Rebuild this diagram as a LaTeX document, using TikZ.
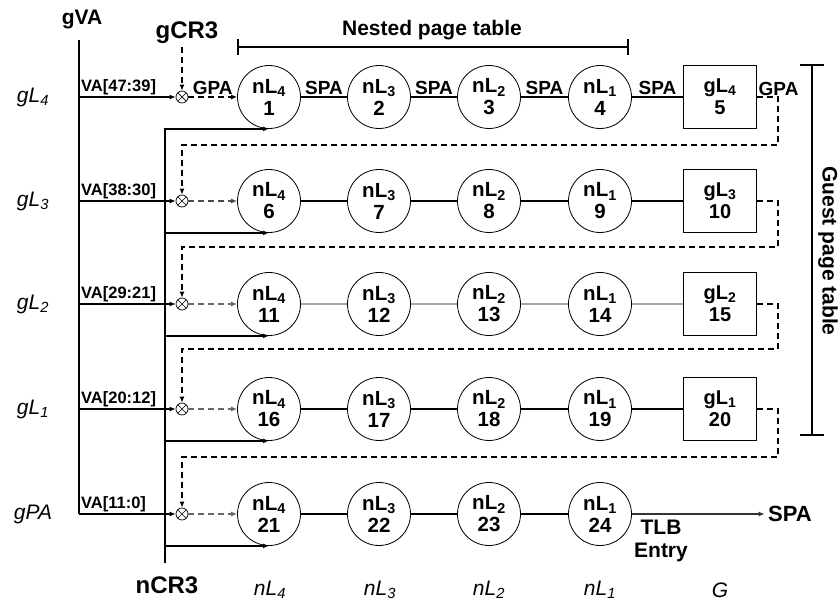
\documentclass[tikz,border=0pt]{standalone}
\usepackage{fontspec}
\setmainfont{Liberation Sans}
\usetikzlibrary{arrows.meta,positioning}

\begin{document}
\begin{tikzpicture}[x=1pt, y=-1pt,
  nl/.style={circle, draw, line width=0.8pt, minimum size=63pt, inner sep=0pt, align=center, font=\bfseries\fontsize{20.5}{22}\selectfont},
  gl/.style={rectangle, draw, line width=1pt, minimum width=73pt, minimum height=63pt, inner sep=0pt, align=center, font=\bfseries\fontsize{20}{22}\selectfont},
  mul/.style={circle, draw, line width=0.7pt, minimum size=12pt, inner sep=0pt,
    path picture={\draw[line width=0.7pt] (path picture bounding box.north west) -- (path picture bounding box.south east)
      (path picture bounding box.north east) -- (path picture bounding box.south west);}},
  link/.style={line width=1.3pt},
  arrow/.style={-{Latex[length=6pt,width=5pt]}, line width=1.3pt},
  darrow/.style={-{Latex[length=6pt,width=5pt]}, line width=1.3pt, dash pattern=on 6pt off 4pt},
  lbl/.style={font=\bfseries\fontsize{19}{19}\selectfont, inner sep=1.5pt},
  va/.style={font=\bfseries\fontsize{16.5}{16.5}\selectfont, inner sep=1.5pt},
  hdr/.style={font=\bfseries\fontsize{21}{23}\selectfont},
  lvl/.style={font=\itshape\fontsize{21}{21}\selectfont},
]
\useasboundingbox (0,0) rectangle (838,601);

% === headers and brackets ===
\node[hdr] (gva) at (82,20) {gVA};
\node[hdr, font=\bfseries\fontsize{24}{24}\selectfont] (gcr3) at (187,33) {gCR3};
\node[hdr, font=\bfseries\fontsize{24}{24}\selectfont] (ncr3) at (167,585) {nCR3};
\node[hdr, font=\bfseries\fontsize{21}{21}\selectfont] (npt) at (432,30) {Nested page table};
\node[hdr, font=\bfseries\fontsize{21}{21}\selectfont, rotate=-90] (gpt) at (828,251) {Guest page table};

\coordinate (gvatop) at (79,40);
\coordinate (ncrtop) at (165,128);
\coordinate (ncrbot) at (165,563);
\coordinate (nptl) at (238,47);
\coordinate (nptr) at (628,47);
\coordinate (gptt) at (812,65);
\coordinate (gptb) at (812,435);

\draw[link] (nptl) -- (nptr);
\draw[link] ([yshift=8pt]nptl) -- ([yshift=-8pt]nptl);
\draw[link] ([yshift=8pt]nptr) -- ([yshift=-8pt]nptr);
\draw[link] (gptt) -- (gptb);
\draw[link] ([xshift=-12pt]gptt) -- ([xshift=12pt]gptt);
\draw[link] ([xshift=-12pt]gptb) -- ([xshift=12pt]gptb);

% === row labels ===
\node[lvl] (lg4) at (33,97) {gL\textsubscript{4}};
\node[lvl] (lg3) at (33,201) {gL\textsubscript{3}};
\node[lvl] (lg2) at (33,304) {gL\textsubscript{2}};
\node[lvl] (lg1) at (33,409) {gL\textsubscript{1}};
\node[lvl] (lgpa) at (33,514) {gPA};

% === column labels ===
\node[lvl] (cn4) at (270,590) {nL\textsubscript{4}};
\node[lvl] (cn3) at (380,590) {nL\textsubscript{3}};
\node[lvl] (cn2) at (489,590) {nL\textsubscript{2}};
\node[lvl] (cn1) at (600,590) {nL\textsubscript{1}};
\node[lvl] (cg) at (720,590) {G};

% === row gL4 ===
\node[mul] (m1) at (182,97) {};
\node[nl] (n1) at (269,97) {nL\textsubscript{4}\\1};
\node[nl] (n2) at (379,97) {nL\textsubscript{3}\\2};
\node[nl] (n3) at (489,97) {nL\textsubscript{2}\\3};
\node[nl] (n4) at (600,97) {nL\textsubscript{1}\\4};
\node[gl] (g5) at (720,97) {gL\textsubscript{4}\\5};

% === row gL3 ===
\node[mul] (m2) at (182,201) {};
\node[nl] (n6) at (269,201) {nL\textsubscript{4}\\6};
\node[nl] (n7) at (379,201) {nL\textsubscript{3}\\7};
\node[nl] (n8) at (489,201) {nL\textsubscript{2}\\8};
\node[nl] (n9) at (600,201) {nL\textsubscript{1}\\9};
\node[gl] (g10) at (720,201) {gL\textsubscript{3}\\10};

% === row gL2 ===
\node[mul] (m3) at (182,304) {};
\node[nl] (n11) at (269,304) {nL\textsubscript{4}\\11};
\node[nl] (n12) at (379,304) {nL\textsubscript{3}\\12};
\node[nl] (n13) at (489,304) {nL\textsubscript{2}\\13};
\node[nl] (n14) at (600,304) {nL\textsubscript{1}\\14};
\node[gl] (g15) at (720,304) {gL\textsubscript{2}\\15};

% === row gL1 ===
\node[mul] (m4) at (182,409) {};
\node[nl] (n16) at (269,409) {nL\textsubscript{4}\\16};
\node[nl] (n17) at (379,409) {nL\textsubscript{3}\\17};
\node[nl] (n18) at (489,409) {nL\textsubscript{2}\\18};
\node[nl] (n19) at (600,409) {nL\textsubscript{1}\\19};
\node[gl] (g20) at (720,409) {gL\textsubscript{1}\\20};

% === row gPA ===
\node[mul] (m5) at (182,514) {};
\node[nl] (n21) at (269,514) {nL\textsubscript{4}\\21};
\node[nl] (n22) at (379,514) {nL\textsubscript{3}\\22};
\node[nl] (n23) at (489,514) {nL\textsubscript{2}\\23};
\node[nl] (n24) at (600,514) {nL\textsubscript{1}\\24};
\node[hdr, font=\bfseries\fontsize{22}{22}\selectfont] (spa) at (790,514) {SPA};
\node[hdr, align=center] (tlb) at (661,541) {TLB\\Entry};

% gVA and nCR3 trunks
\draw[link] (gvatop) -- (gvatop |- m5);
\draw[link] (ncrtop) -- (ncrbot);
\draw[arrow] (gvatop |- m1) -- node[va, pos=0, anchor=south west] {VA[47:39]} (m1);
\draw[arrow] (gvatop |- m2) -- node[va, pos=0, anchor=south west] {VA[38:30]} (m2);
\draw[arrow] (gvatop |- m3) -- node[va, pos=0, anchor=south west] {VA[29:21]} (m3);
\draw[arrow] (gvatop |- m4) -- node[va, pos=0, anchor=south west] {VA[20:12]} (m4);
\draw[arrow] (gvatop |- m5) -- node[va, pos=0, anchor=south west] {VA[11:0]} (m5);
\draw[arrow] (ncrtop |- n1.south) -- (n1.south);
\draw[arrow] (ncrtop |- n6.south) -- (n6.south);
\draw[arrow] (ncrtop |- n11.south) -- (n11.south);
\draw[arrow] (ncrtop |- n16.south) -- (n16.south);
\draw[arrow] (ncrtop |- n21.south) -- (n21.south);

% gCR3 and GPA into each row
\draw[darrow] (gcr3.south -| m1) -- (m1);
\draw[darrow] (m1) -- node[lbl, above] {GPA} (n1);
\draw[darrow, black!70] (m2) -- (n6);
\draw[darrow, black!60] (m3) -- (n11);
\draw[darrow, black!60] (m4) -- (n16);
\draw[darrow, black!60] (m5) -- (n21);

% nested walk links
\draw[link] (n1) -- node[lbl, above] {SPA} (n2);
\draw[link] (n2) -- node[lbl, above] {SPA} (n3);
\draw[link] (n3) -- node[lbl, above] {SPA} (n4);
\draw[link] (n4) -- node[lbl, above] {SPA} (g5);
\draw[link] (n6) -- (n7);
\draw[link] (n7) -- (n8);
\draw[link] (n8) -- (n9);
\draw[link] (n9) -- (g10);
\draw[link, gray!70] (n11) -- (n12);
\draw[link, gray!70] (n12) -- (n13);
\draw[link, gray!70] (n13) -- (n14);
\draw[link, gray!70] (n14) -- (g15);
\draw[link] (n16) -- (n17);
\draw[link] (n17) -- (n18);
\draw[link] (n18) -- (n19);
\draw[link] (n19) -- (g20);
\draw[link] (n21) -- (n22);
\draw[link] (n22) -- (n23);
\draw[link] (n23) -- (n24);
\draw[arrow, black!80] (n24) -- (spa);

% guest PA fed back to the next row
\node[lbl, anchor=south west] (gpa) at (g5.east) {GPA};
\draw[darrow] (g5.east) -| ++(21,48) -| (m2);
\draw[darrow] (g10.east) -| ++(21,46) -| (m3);
\draw[darrow] (g15.east) -| ++(21,45) -| (m4);
\draw[darrow] (g20.east) -| ++(21,48) -| (m5);
\end{tikzpicture}
\end{document}
